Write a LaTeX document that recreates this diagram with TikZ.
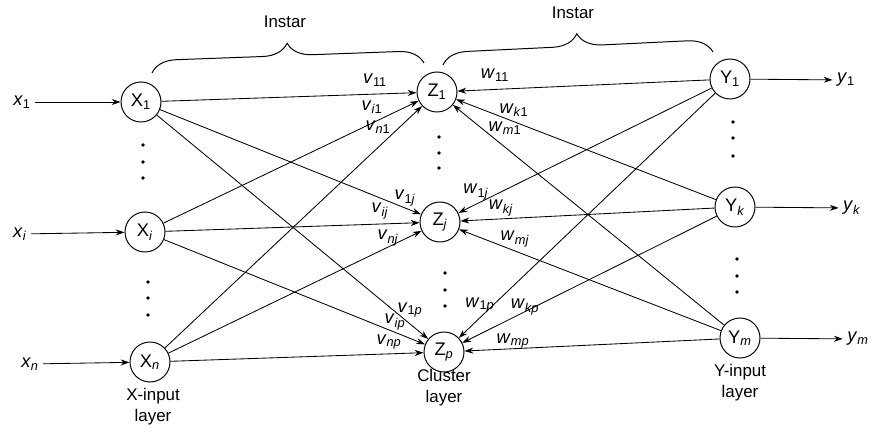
\documentclass[tikz,border=0pt]{standalone}
\usepackage{fontspec}
\setmainfont{Liberation Sans}
\usetikzlibrary{arrows.meta,decorations.pathreplacing}

\newcommand{\sbi}[2]{#1\textsubscript{#2}}

\begin{document}
\begin{tikzpicture}[
    x=0.025cm, y=-0.025cm,
    unit/.style={circle, draw, line width=0.7pt, minimum size=1cm, inner sep=0pt,
    font=\fontsize{13}{15}\selectfont},
    wlabel/.style={font=\fontsize{13}{15}\selectfont, inner sep=0pt},
    iolabel/.style={font=\fontsize{13}{15}\selectfont, inner sep=3pt},
    txt/.style={font=\fontsize{12}{15}\selectfont, align=center, inner sep=0pt},
    arrow/.style={-{Stealth[length=2.2mm, width=1.5mm]}, line width=0.6pt},
    brc/.style={decorate, decoration={brace, amplitude=0.62cm}, line width=0.7pt}
]
\useasboundingbox (0,0) rectangle (873,432);

% units
\node[unit] (X1) at (141,102) {\sbi{X}{1}};
\node[unit] (Xi) at (145,232) {\sbi{X}{\textit{i}}};
\node[unit] (Xn) at (150,362) {\sbi{X}{\textit{n}}};
\node[unit] (Z1) at (437,92) {\sbi{Z}{1}};
\node[unit] (Zj) at (440,222) {\sbi{Z}{\textit{j}}};
\node[unit] (Zp) at (444,352) {\sbi{Z}{\textit{p}}};
\node[unit] (Y1) at (730,79) {\sbi{Y}{1}};
\node[unit] (Yk) at (735,207) {\sbi{Y}{\textit{k}}};
\node[unit] (Ym) at (740,338) {\sbi{Y}{\textit{m}}};

% inputs and outputs
\node[iolabel] (x1) at (22,102) {\sbi{\textit{x}}{1}};
\node[iolabel] (xi) at (20,234) {\sbi{\textit{x}}{\textit{i}}};
\node[iolabel] (xn) at (30,364) {\sbi{\textit{x}}{\textit{n}}};
\node[iolabel] (y1) at (846,80) {\sbi{\textit{y}}{1}};
\node[iolabel] (yk) at (852,208) {\sbi{\textit{y}}{\textit{k}}};
\node[iolabel] (ym) at (858,339) {\sbi{\textit{y}}{\textit{m}}};
\draw[arrow] (x1) -- (X1);
\draw[arrow] (xi) -- (Xi);
\draw[arrow] (xn) -- (Xn);
\draw[arrow] (Y1) -- (y1);
\draw[arrow] (Yk) -- (yk);
\draw[arrow] (Ym) -- (ym);

% connections
\foreach \a in {X1,Xi,Xn}
  \foreach \b in {Z1,Zj,Zp}
    \draw[arrow] (\a) -- (\b);
\foreach \a in {Y1,Yk,Ym}
  \foreach \b in {Z1,Zj,Zp}
    \draw[arrow] (\a) -- (\b);

% weights
\node[wlabel] (v11) at (375,80) {\sbi{\textit{v}}{11}};
\node[wlabel] (vi1) at (372,107) {\sbi{\textit{v}}{\textit{i}1}};
\node[wlabel] (vn1) at (378,127) {\sbi{\textit{v}}{\textit{n}1}};
\node[wlabel] (v1j) at (405,198) {\sbi{\textit{v}}{1\textit{j}}};
\node[wlabel] (vij) at (380,211) {\sbi{\textit{v}}{\textit{ij}}};
\node[wlabel] (vnj) at (388,238) {\sbi{\textit{v}}{\textit{nj}}};
\node[wlabel] (v1p) at (410,310) {\sbi{\textit{v}}{1\textit{p}}};
\node[wlabel] (vip) at (395,322) {\sbi{\textit{v}}{\textit{ip}}};
\node[wlabel] (vnp) at (389,342) {\sbi{\textit{v}}{\textit{np}}};
\node[wlabel] (w11) at (495,75) {\sbi{\textit{w}}{11}};
\node[wlabel] (wk1) at (514,110) {\sbi{\textit{w}}{\textit{k}1}};
\node[wlabel] (wm1) at (505,128) {\sbi{\textit{w}}{\textit{m}1}};
\node[wlabel] (w1j) at (476,192) {\sbi{\textit{w}}{1\textit{j}}};
\node[wlabel] (wkj) at (501,208) {\sbi{\textit{w}}{\textit{kj}}};
\node[wlabel] (wmj) at (515,239) {\sbi{\textit{w}}{\textit{mj}}};
\node[wlabel] (w1p) at (480,305) {\sbi{\textit{w}}{1\textit{p}}};
\node[wlabel] (wkp) at (525,307) {\sbi{\textit{w}}{\textit{kp}}};
\node[wlabel] (wmp) at (513,341) {\sbi{\textit{w}}{\textit{mp}}};

% dots
\foreach \y in {145,162,178} \fill (143,\y) circle (1.3pt);
\foreach \y in {282,298,315} \fill (148,\y) circle (1.3pt);
\foreach \y in {137,153,168} \fill (439,\y) circle (1.3pt);
\foreach \y in {273,290,306} \fill (445,\y) circle (1.3pt);
\foreach \y in {122,138,156} \fill (733,\y) circle (1.3pt);
\foreach \y in {259,276,292} \fill (737,\y) circle (1.3pt);

% braces
\draw[brc] (152,73) -- (424,63);
\draw[brc] (443,65) -- (713,52);
\node[txt] (ins1) at (285,22) {Instar};
\node[txt] (ins2) at (573,13) {Instar};

% layer names
\node[txt] (xlay) at (153,407) {X-input\\layer};
\node[txt] (zlay) at (444,388) {Cluster\\layer};
\node[txt] (ylay) at (740,383) {Y-input\\layer};
\end{tikzpicture}
\end{document}
